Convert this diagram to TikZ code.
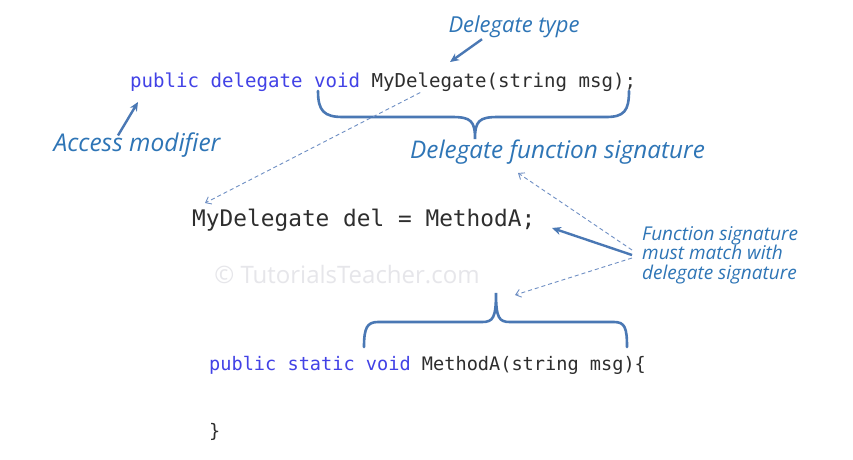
\documentclass[tikz,border=0pt]{standalone}
\usepackage{fontspec}
\setmonofont{DejaVu Sans Mono}
\newfontfamily\handfont{Open Sans}
\usetikzlibrary{arrows.meta}
\definecolor{kwblue}{HTML}{4242E6}
\definecolor{codegray}{HTML}{2E2E2E}
\definecolor{notecol}{HTML}{2E75B6}
\definecolor{linecol}{HTML}{4A78B4}
\definecolor{dashcol}{HTML}{6F8FC4}
\definecolor{wmcol}{HTML}{E6E6EA}
\begin{document}
\begin{tikzpicture}[x=1pt,y=-1pt,
  code/.style={inner sep=0pt,anchor=west,text=codegray},
  note/.style={inner sep=0pt,text=notecol,font=\handfont\itshape\fontsize{23}{26}\selectfont},
  solidarrow/.style={draw=linecol,line width=2.4pt,-{Stealth[length=9pt,width=8pt]}},
  dasharrow/.style={draw=dashcol,line width=0.9pt,dash pattern=on 4pt off 3pt,-{Straight Barb[length=5pt,width=8pt]}},
  bracepath/.style={draw=linecol,line width=2.6pt,line cap=round}]
\useasboundingbox (0,0) rectangle (853,459);
\fill[white] (0,0) rectangle (853,459);

% watermark
\node[inner sep=0pt,text=wmcol,font=\handfont\fontsize{24}{27}\selectfont] (wm) at (347,275) {© TutorialsTeacher.com};

% code lines
\node[code,font=\ttfamily\fontsize{19.1}{22}\selectfont] (decl) at (130,82) {\textcolor{kwblue}{public delegate void} MyDelegate(string msg);};
\node[code,font=\ttfamily\fontsize{22.8}{26}\selectfont] (assign) at (192,220) {MyDelegate del = MethodA;};
\node[code,font=\ttfamily\fontsize{18.6}{22}\selectfont] (method) at (209,365) {\textcolor{kwblue}{public static void} MethodA(string msg)\{};
\node[code,font=\ttfamily\fontsize{18.6}{22}\selectfont] (close) at (209,432) {\}};

% annotations
\node[note,font=\handfont\itshape\fontsize{22}{25}\selectfont] (dtype) at (514,27) {Delegate type};
\node[note,font=\handfont\itshape\fontsize{24.5}{27}\selectfont] (access) at (137,145) {Access modifier};
\node[note,anchor=west,font=\handfont\itshape\fontsize{24.3}{27}\selectfont] (sig) at (410,152) {Delegate function signature};
\node[note,anchor=west,align=left,font=\handfont\itshape\fontsize{19}{19.5}\selectfont] (match) at (642,255) {Function signature\\must match with\\delegate signature};

% braces
\coordinate (braceT) at (475,139);
\coordinate (braceB) at (496,293);
\draw[bracepath] (318,91) .. controls (318,111) and (324,117) .. (343,117) -- (452,117) .. controls (471,117) and (475,121) .. (braceT)
  .. controls (475,121) and (479,117) .. (498,117) -- (606,117) .. controls (624,117) and (629,111) .. (629,91);
\draw[bracepath] (364,347) .. controls (364,328) and (367,322) .. (378,322) -- (482,322) .. controls (493,322) and (496,318) .. (braceB)
  .. controls (496,318) and (499,322) .. (510,322) -- (614,322) .. controls (625,322) and (627,328) .. (627,347);

% arrows
\coordinate (dtypeTip) at (450,62);
\coordinate (accTip) at (138,102);
\coordinate (sigTip) at (518,173);
\coordinate (assignTip) at (552,228);
\coordinate (declTip) at (205,203);
\coordinate (braceTip) at (515,295);
\draw[solidarrow] ([xshift=-32pt,yshift=-1pt]dtype.south) -- (dtypeTip);
\draw[solidarrow] ([xshift=-19pt,yshift=-3pt]access.north) -- (accTip);
\draw[dasharrow] ([xshift=37pt,yshift=-1pt]decl.south) -- (declTip);
\draw[solidarrow] ([xshift=-10pt]match.west) -- (assignTip);
\draw[dasharrow] ([xshift=-10pt,yshift=5pt]match.west) -- (sigTip);
\draw[dasharrow] ([xshift=-10pt,yshift=-3pt]match.west) -- (braceTip);
\end{tikzpicture}
\end{document}
